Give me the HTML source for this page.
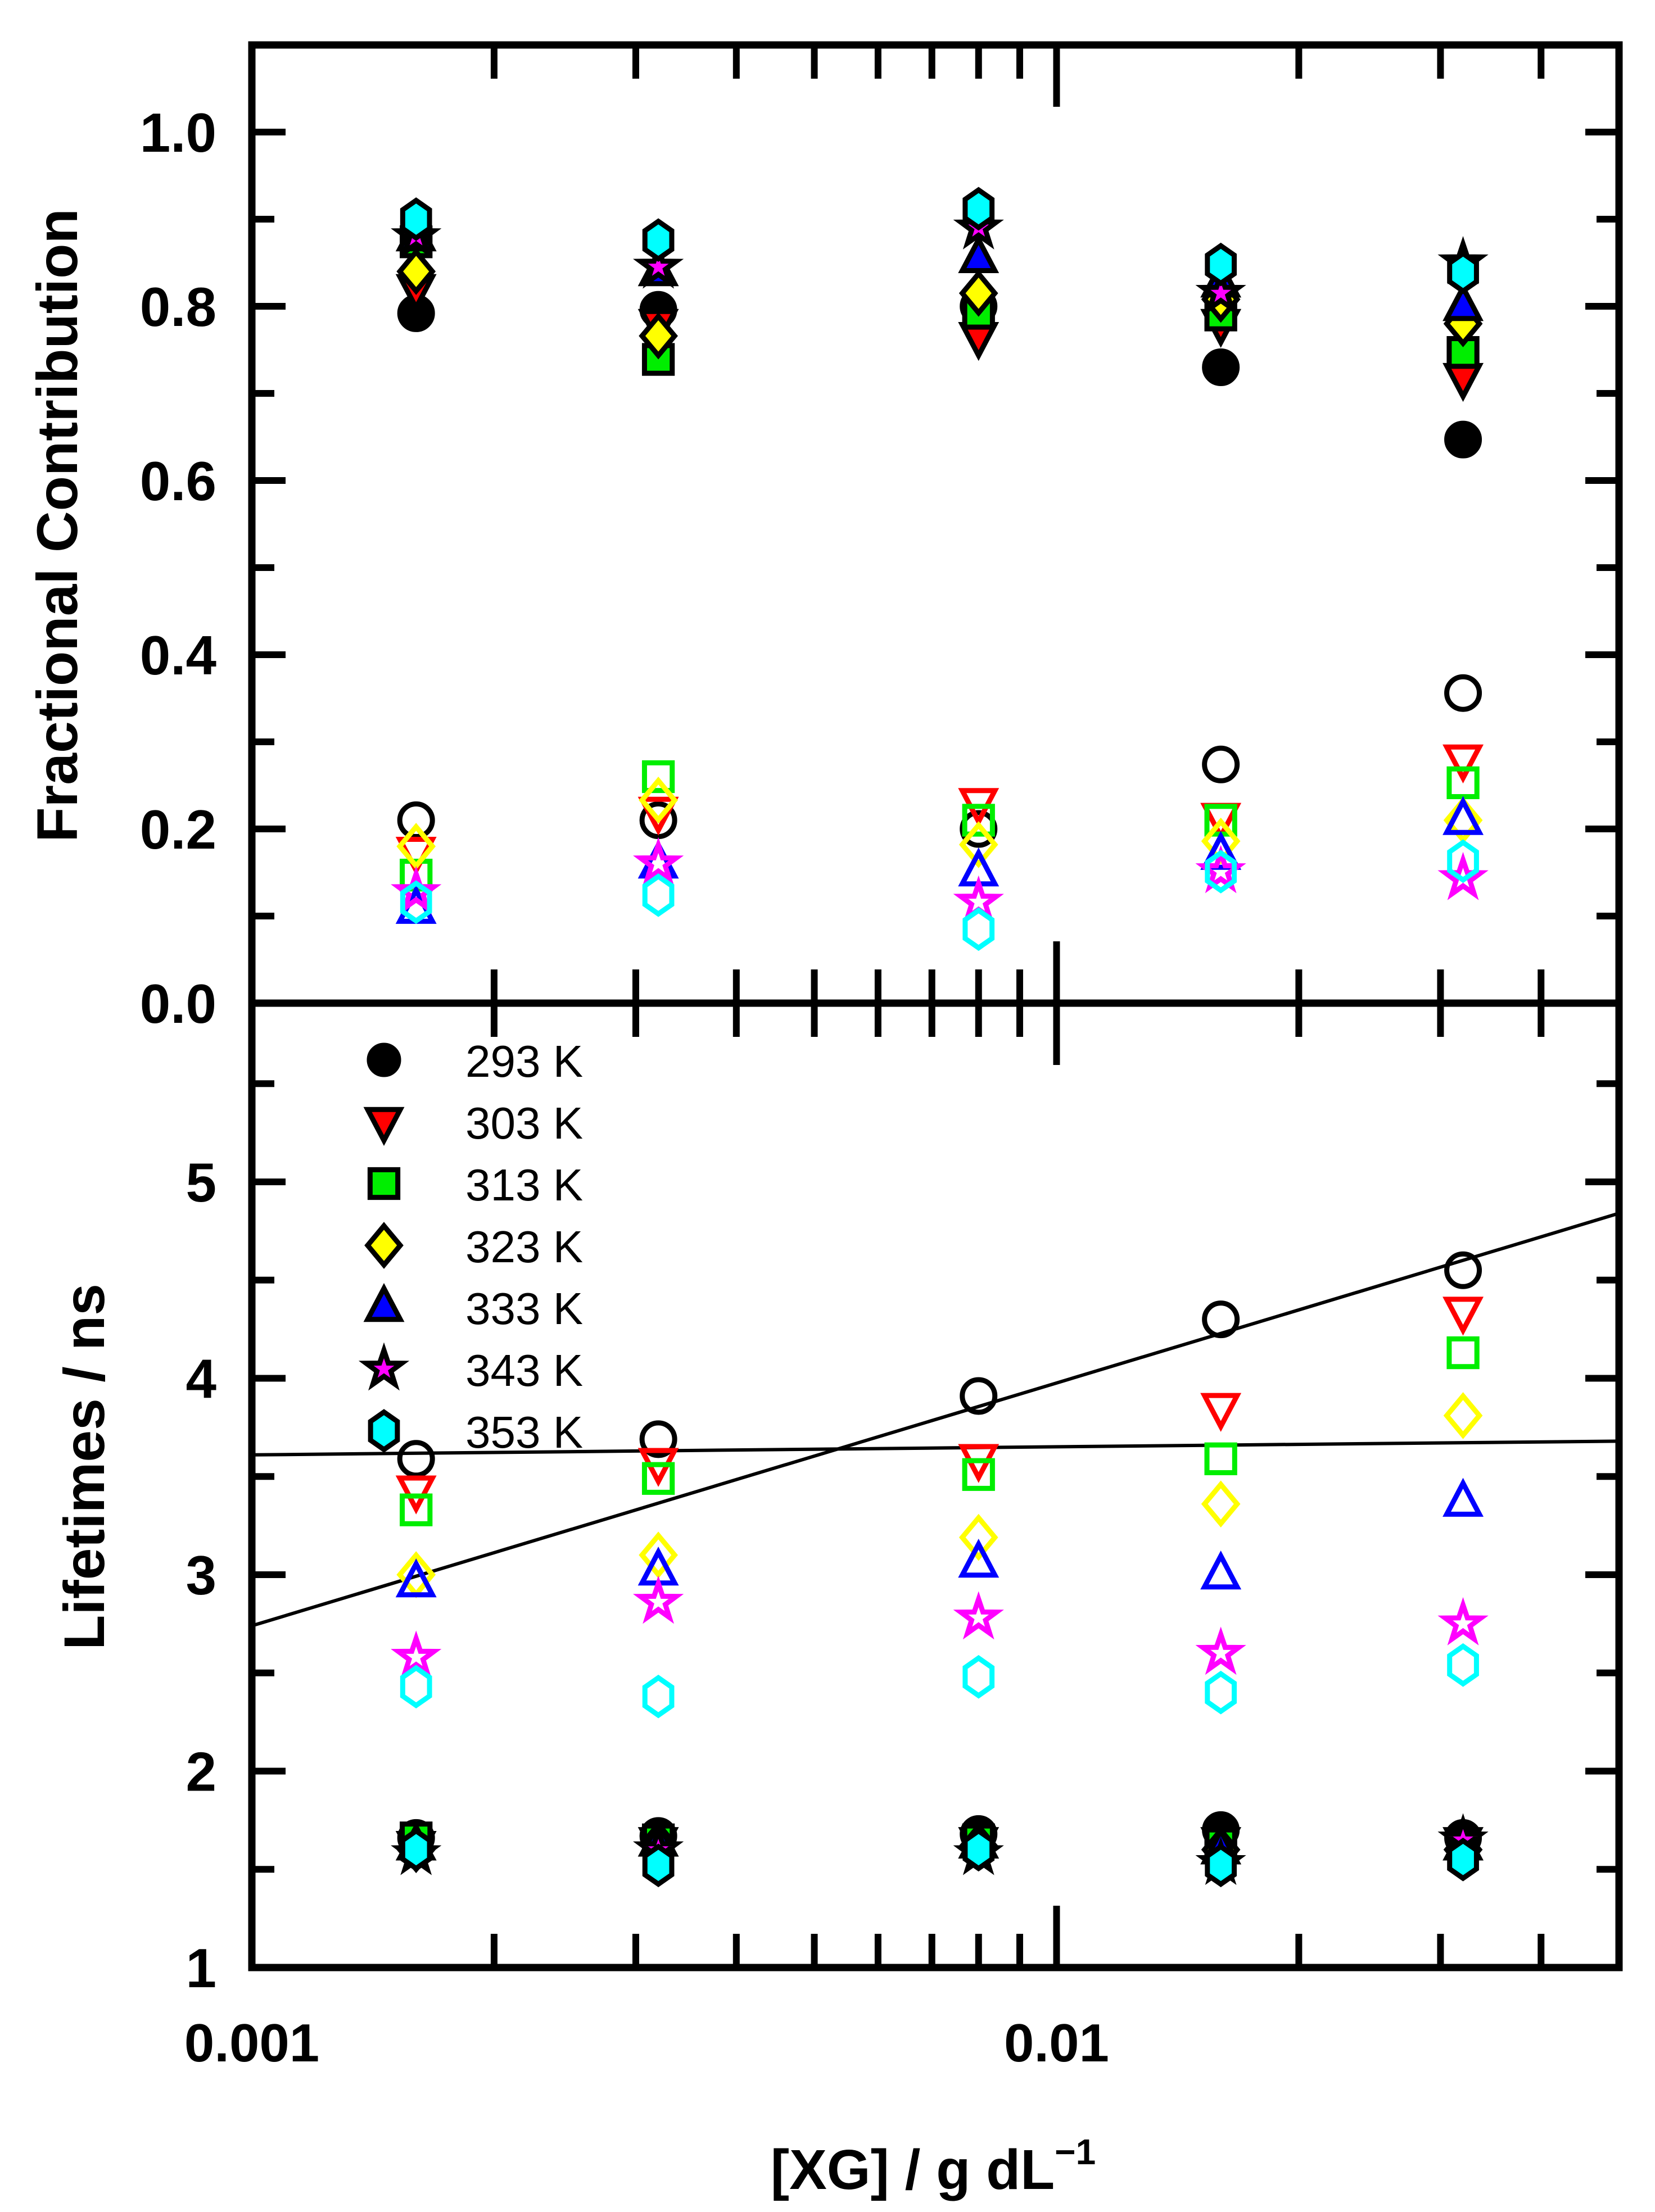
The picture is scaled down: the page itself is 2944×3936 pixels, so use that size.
<!DOCTYPE html>
<html><head><meta charset="utf-8"><style>
html,body{margin:0;padding:0;background:#fff;}
svg{display:block;font-family:"Liberation Sans",Arial,sans-serif;}
</style></head><body>
<svg id="chart" width="2944" height="3936" viewBox="0 0 2944 3936" xmlns="http://www.w3.org/2000/svg">
<g id="axes"></g>
<g id="marks"></g>
<g id="legend"></g>
<text x="0" y="0" transform="translate(137,935) rotate(-90)" text-anchor="middle" font-size="102" font-weight="bold">Fractional Contribution</text>
<text x="0" y="0" transform="translate(185,2610) rotate(-90)" text-anchor="middle" font-size="102" font-weight="bold">Lifetimes / ns</text>
<text x="1660" y="3895" text-anchor="middle" font-size="100" font-weight="bold">[XG] / g dL<tspan font-size="64" dy="-44">−1</tspan></text>
</svg>
<script>
const xVals = [0.0016, 0.0032, 0.008, 0.016, 0.032];
const temps = ["293 K","303 K","313 K","323 K","333 K","343 K","353 K"];
const colors = ["#000000","#ff0000","#00ee00","#ffff00","#0000ff","#ff00ff","#00ffff"];
const shapes = ["circle","tridown","square","diamond","triup","star","hex"];
const fracMajor = [
 [0.792,0.796,0.80,0.73,0.647],
 [0.82,0.78,0.765,0.78,0.718],
 [0.874,0.739,0.792,0.79,0.747],
 [0.84,0.766,0.815,0.808,0.78],
 [0.88,0.84,0.855,0.827,0.80],
 [0.88,0.845,0.89,0.815,0.85],
 [0.90,0.876,0.912,0.848,0.839]];
const fracMinor = [
 [0.21,0.21,0.20,0.274,0.356],
 [0.174,0.22,0.23,0.213,0.28],
 [0.147,0.26,0.21,0.21,0.253],
 [0.18,0.233,0.182,0.186,0.21],
 [0.108,0.16,0.151,0.17,0.21],
 [0.127,0.16,0.116,0.151,0.143],
 [0.116,0.124,0.085,0.151,0.163]];
const lifeLong = [
 [3.59,3.69,3.91,4.30,4.55],
 [3.43,3.57,3.59,3.85,4.34],
 [3.33,3.49,3.51,3.59,4.13],
 [3.0,3.1,3.19,3.36,3.81],
 [2.96,3.02,3.06,3.0,3.37],
 [2.58,2.86,2.78,2.60,2.75],
 [2.43,2.38,2.48,2.40,2.54]];
const lifeShort = [
 [1.66,1.67,1.68,1.70,1.66],
 [1.62,1.64,1.64,1.64,1.64],
 [1.66,1.65,1.65,1.63,1.63],
 [1.60,1.63,1.62,1.60,1.60],
 [1.62,1.64,1.63,1.60,1.62],
 [1.58,1.60,1.58,1.53,1.65],
 [1.60,1.52,1.60,1.52,1.55]];
const fitLines = [[0.001,2.74,0.05,4.84],[0.001,3.61,0.05,3.68]];
const fracTicks = ["0.0","0.2","0.4","0.6","0.8","1.0"];
const lifeTicks = ["1","2","3","4","5"];

const NS="http://www.w3.org/2000/svg";
const L=448,R=2880,T1=80,B1=1785,B2=3501;
const DEC=(R-L)/Math.log10(50);
function X(v){return L+(Math.log10(v)+3)*DEC;}
function Yf(v){return B1-v*1550;}
function Yl(v){return B2-(v-1)*349.5;}
function el(tag,attrs,parent){const e=document.createElementNS(NS,tag);for(const k in attrs)e.setAttribute(k,attrs[k]);parent.appendChild(e);return e;}
const axes=document.getElementById('axes'),marks=document.getElementById('marks'),legend=document.getElementById('legend');

let f=el('rect',{x:L,y:T1,width:R-L,height:B2-T1,fill:'none',stroke:'#000','stroke-width':13},axes);

let mid=el('line',{x1:L,y1:B1,x2:R,y2:B1,stroke:'#000','stroke-width':13},axes);

const xt=[];for(let d=-3;d<=-2;d++)for(let m=1;m<=9;m++){const v=m*Math.pow(10,d);if(v>0.001&&v<0.05)xt.push(v);}
xt.forEach(v=>{const x=X(v);const major=Math.abs(v-0.01)<1e-9;const len=major?110:60;
 [[T1,T1+len],[B1,B1-len],[B1,B1+len],[B2,B2-len]].forEach(p=>{const t=el('line',{x1:x,x2:x,y1:p[0],y2:p[1],stroke:'#000','stroke-width':12},axes);
 });});
[[0.001,"0.001"],[0.01,"0.01"]].forEach(p=>{const t=el('text',{x:X(p[0]),y:3668,'text-anchor':'middle','font-size':96,'font-weight':'bold'},axes);t.textContent=p[1];
 });
for(let i=1;i<=10;i++){const v=i/10;const y=Yf(v);const len=i%2==0?60:40;
 [[L,L+len],[R,R-len]].forEach(p=>{const t=el('line',{x1:p[0],x2:p[1],y1:y,y2:y,stroke:'#000','stroke-width':12},axes);
 });}
fracTicks.forEach(s=>{const t=el('text',{x:385,y:Yf(parseFloat(s))+35,'text-anchor':'end','font-size':98,'font-weight':'bold'},axes);t.textContent=s;
 });
for(let v=1.5;v<=5.5;v+=0.5){const y=Yl(v);const len=Number.isInteger(v)?60:40;
 [[L,L+len],[R,R-len]].forEach(p=>{const t=el('line',{x1:p[0],x2:p[1],y1:y,y2:y,stroke:'#000','stroke-width':12},axes);
 });}
lifeTicks.forEach(s=>{const t=el('text',{x:385,y:Yl(parseFloat(s))+35,'text-anchor':'end','font-size':98,'font-weight':'bold'},axes);t.textContent=s;
 });
fitLines.forEach(l=>{const t=el('line',{x1:X(l[0]),y1:Yl(l[1]),x2:X(l[2]),y2:Yl(l[3]),stroke:'#000','stroke-width':6},marks);
 });

function marker(shape,cx,cy,fill,stroke,parent,r){r=r||29;let e;
 if(shape=='circle')e=el('circle',{cx:cx,cy:cy,r:r},parent);
 else if(shape=='square')e=el('rect',{x:cx-r*0.85,y:cy-r*0.85,width:r*1.7,height:r*1.7},parent);
 else{let pts=[];
  if(shape=='tridown')pts=[[-1,-0.75],[1,-0.75],[0,1.15]];
  else if(shape=='triup')pts=[[-1,0.75],[1,0.75],[0,-1.15]];
  else if(shape=='diamond')pts=[[0,-1.2],[1,0],[0,1.2],[-1,0]];
  else if(shape=='hex'){for(let k=0;k<6;k++){const a=Math.PI/2+k*Math.PI/3;pts.push([Math.cos(a)*0.95,Math.sin(a)*1.15]);}}
  else if(shape=='star'){for(let k=0;k<10;k++){const a=-Math.PI/2+k*Math.PI/5;const rr=k%2?0.45:1.15;pts.push([Math.cos(a)*rr,Math.sin(a)*rr]);}}
  e=el('polygon',{points:pts.map(p=>(cx+p[0]*r)+','+(cy+p[1]*r)).join(' ')},parent);}
 e.setAttribute('fill',fill);e.setAttribute('stroke',stroke);e.setAttribute('stroke-width',9);return e;}

for(let s=0;s<7;s++){
 xVals.forEach((xv,i)=>{
  let m=marker(shapes[s],X(xv),Yf(fracMinor[s][i]),'none',colors[s],marks);
  
  m=marker(shapes[s],X(xv),Yl(lifeLong[s][i]),'none',colors[s],marks);
  
 });}
for(let s=0;s<7;s++){
 xVals.forEach((xv,i)=>{
  let m=marker(shapes[s],X(xv),Yf(fracMajor[s][i]),colors[s],'#000',marks);
  
  m=marker(shapes[s],X(xv),Yl(lifeShort[s][i]),colors[s],'#000',marks);
  
 });}
temps.forEach((t,s)=>{const y=1886+s*110;
 const g=el('g',{},legend);
 marker(shapes[s],683,y,colors[s],'#000',g,s==0?26:29);
 const tx=el('text',{x:828,y:y+30,'font-size':80},g);tx.textContent=t;
 });
</script>
</body></html>
